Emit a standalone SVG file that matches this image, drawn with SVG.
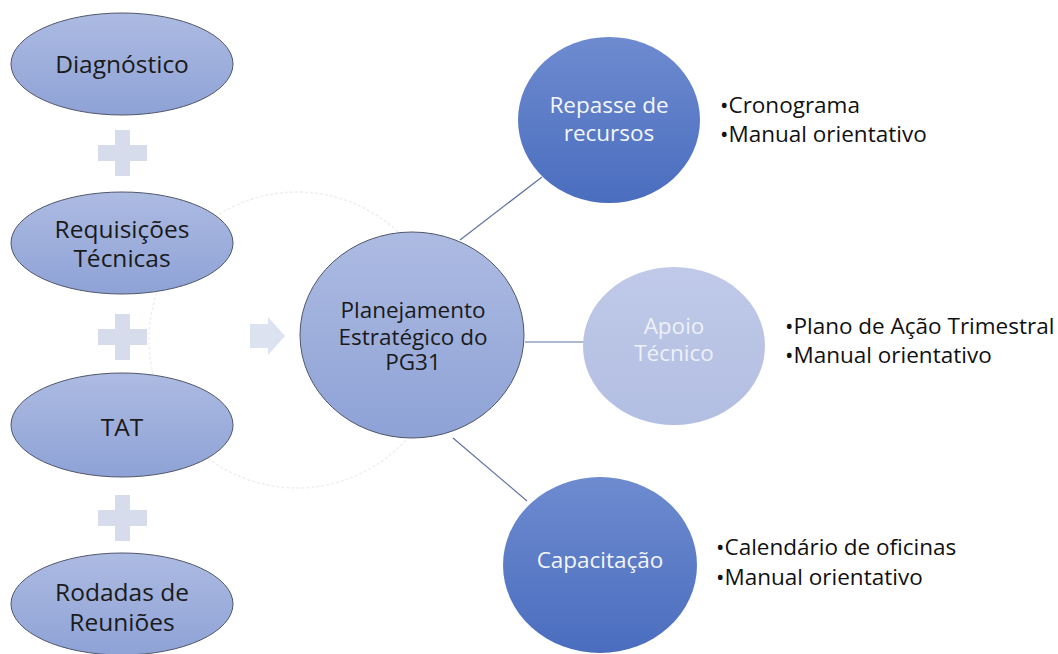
<svg xmlns="http://www.w3.org/2000/svg" width="1058" height="654" viewBox="0 0 1058 654">
<defs>
<linearGradient id="gLeft" x1="0" y1="0" x2="0" y2="1">
<stop offset="0" stop-color="#adbbe2"/>
<stop offset="1" stop-color="#8ea2d6"/>
</linearGradient>
<linearGradient id="gDark" x1="0" y1="0" x2="0" y2="1">
<stop offset="0" stop-color="#6e8bd0"/>
<stop offset="1" stop-color="#4a6dbe"/>
</linearGradient>
<linearGradient id="gLight" x1="0" y1="0" x2="0" y2="1">
<stop offset="0" stop-color="#c0c9e8"/>
<stop offset="1" stop-color="#b2bee2"/>
</linearGradient>
<style>
.t{font-family:"Open Sans","Noto Sans","Liberation Sans",sans-serif;text-anchor:middle}
.dk{fill:#1a1a1a;font-size:24.5px}
.ct{fill:#1a1a1a;font-size:22.5px}
.wt{fill:#f4f6fb;font-size:22.5px}
.lt{fill:#eef1f9;font-size:22.5px}
.b{font-family:"Open Sans","Noto Sans","Liberation Sans",sans-serif;fill:#111;font-size:22.5px}
.lft{fill:url(#gLeft);stroke:#50576a;stroke-width:1}
.plus{fill:#d6dcec}
.conn{stroke:#5f73a3;stroke-width:1.2;fill:none}
</style>
</defs>
<rect width="1058" height="654" fill="#ffffff"/>
<circle cx="297" cy="340" r="148" fill="none" stroke="#efefef" stroke-width="1.5" stroke-dasharray="3 2"/>
<g id="connectors">
<line class="conn" x1="460" y1="240" x2="542" y2="177"/>
<line class="conn" x1="525" y1="342" x2="584" y2="342"/>
<line class="conn" x1="453" y1="438" x2="527" y2="501"/>
<path d="M250,324 H268 V317 L285,336 L268,355 V348 H250 Z" fill="#dde2f0"/>
<path class="plus" d="M115,130 H130 V145 H147 V161 H130 V176 H115 V161 H98 V145 H115 Z"/>
<path class="plus" d="M115,314 H130 V329 H147 V345 H130 V360 H115 V345 H98 V329 H115 Z"/>
<path class="plus" d="M115,495 H130 V510 H147 V526 H130 V541 H115 V526 H98 V510 H115 Z"/>
</g>
<g id="diagnostico">
<ellipse class="lft" cx="122" cy="64" rx="111" ry="51"/>
<text class="t dk" x="122" y="73">Diagnóstico</text>
</g>
<g id="requisicoes">
<ellipse class="lft" cx="122" cy="243" rx="111" ry="51"/>
<text class="t dk" x="122" y="238">Requisições</text>
<text class="t dk" x="122" y="267">Técnicas</text>
</g>
<g id="tat">
<ellipse class="lft" cx="122" cy="425" rx="111" ry="52"/>
<text class="t dk" x="122" y="436">TAT</text>
</g>
<g id="rodadas">
<ellipse class="lft" cx="122" cy="604" rx="111" ry="51"/>
<text class="t dk" x="122" y="601">Rodadas de</text>
<text class="t dk" x="122" y="631">Reuniões</text>
</g>
<g id="planejamento">
<ellipse cx="412" cy="335" rx="112" ry="103" fill="url(#gLeft)" stroke="#50576a" stroke-width="1"/>
<text class="t ct" x="413" y="318">Planejamento</text>
<text class="t ct" x="413" y="345">Estratégico do</text>
<text class="t ct" x="413" y="370">PG31</text>
</g>
<g id="repasse">
<ellipse cx="609" cy="120" rx="91" ry="83" fill="url(#gDark)"/>
<text class="t wt" x="609" y="113">Repasse de</text>
<text class="t wt" x="609" y="141">recursos</text>
<text class="b" x="720" y="113">•Cronograma</text>
<text class="b" x="720" y="142">•Manual orientativo</text>
</g>
<g id="apoio">
<ellipse cx="674" cy="346" rx="91" ry="79" fill="url(#gLight)"/>
<text class="t lt" x="674" y="334">Apoio</text>
<text class="t lt" x="674" y="361">Técnico</text>
<text class="b" x="785" y="334">•Plano de Ação Trimestral</text>
<text class="b" x="785" y="363">•Manual orientativo</text>
</g>
<g id="capacitacao">
<ellipse cx="600" cy="565" rx="97" ry="88" fill="url(#gDark)"/>
<text class="t wt" x="600" y="568">Capacitação</text>
<text class="b" x="716" y="555">•Calendário de oficinas</text>
<text class="b" x="716" y="585">•Manual orientativo</text>
</g>
</svg>
